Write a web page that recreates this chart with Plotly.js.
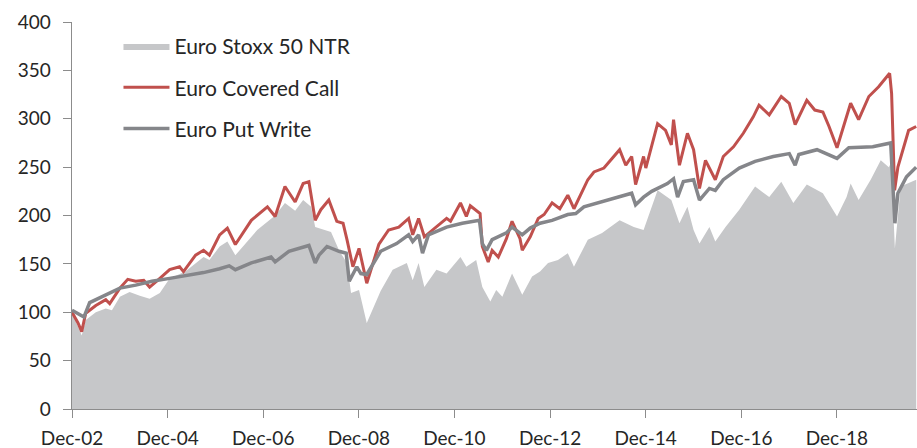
<!DOCTYPE html>
<html>
<head>
<meta charset="utf-8">
<script src="https://cdn.plot.ly/plotly-3.0.1.min.js"></script>
<style>
html,body{margin:0;padding:0;background:#fff;}
#chart{width:917px;height:448px;}
</style>
</head>
<body>
<div id="chart"></div>
<script>
// ---- Euro Stoxx 50 NTR (area) ----
var stoxxDates = ['2002-12-31','2003-02-01','2003-03-15','2003-04-15','2003-07-01','2003-09-15','2003-11-01','2004-01-01','2004-03-15','2004-06-01','2004-08-15','2004-11-01','2005-01-15','2005-05-15','2005-10-01','2005-11-15','2006-02-01','2006-04-01','2006-06-01','2006-11-15','2007-04-01','2007-06-15','2007-09-01','2007-11-01','2008-01-01','2008-02-01','2008-06-01','2008-08-01','2008-10-01','2008-11-01','2009-01-01','2009-03-01','2009-06-15','2009-09-15','2010-01-01','2010-02-15','2010-04-01','2010-05-15','2010-08-15','2010-11-01','2011-02-15','2011-04-01','2011-06-15','2011-08-01','2011-10-01','2011-11-15','2012-01-01','2012-03-15','2012-06-01','2012-08-15','2012-10-15','2012-12-15','2013-03-01','2013-05-15','2013-07-01','2013-10-15','2014-02-01','2014-06-15','2014-10-01','2014-12-15','2015-04-01','2015-07-15','2015-09-15','2015-11-15','2016-01-01','2016-02-15','2016-05-01','2016-06-15','2016-09-01','2016-12-15','2017-04-15','2017-08-01','2017-11-01','2018-02-01','2018-05-15','2018-09-15','2019-01-01','2019-03-15','2019-04-15','2019-06-15','2019-09-15','2019-12-01','2020-02-01','2020-02-19','2020-03-05','2020-03-18','2020-05-01','2020-08-28'];
var stoxxValues = [100,90,76,92,100,104,102,116,121,117,114,120,135,142,157,154,168,173,159,185,200,213,205,216,209,188,183,164,151,120,123,89,122,144,151,133,151,126,144,140,157,147,154,126,111,123,116,140,118,137,142,151,154,161,147,175,182,195,188,185,226,216,192,209,185,171,188,173,188,206,230,219,235,213,232,223,199,219,233,216,237,257,250,255,210,166,230,237];

// ---- Euro Covered Call (red line) ----
var callDates = ['2002-12-31','2003-02-15','2003-03-15','2003-04-15','2003-07-01','2003-09-15','2003-10-15','2004-01-01','2004-03-01','2004-05-01','2004-07-01','2004-08-15','2004-10-15','2005-01-15','2005-04-01','2005-05-01','2005-08-01','2005-10-01','2005-11-15','2006-02-01','2006-04-01','2006-06-01','2006-10-01','2007-02-01','2007-04-01','2007-06-15','2007-09-01','2007-11-01','2007-12-15','2008-02-01','2008-03-15','2008-05-15','2008-07-15','2008-09-01','2008-10-01','2008-11-15','2009-01-01','2009-03-01','2009-06-01','2009-08-15','2009-11-01','2010-01-15','2010-02-15','2010-04-01','2010-05-15','2010-07-15','2010-11-01','2010-12-01','2011-02-15','2011-04-01','2011-05-01','2011-07-15','2011-08-01','2011-09-15','2011-10-15','2011-12-01','2012-02-01','2012-03-15','2012-05-15','2012-06-01','2012-08-01','2012-10-01','2012-11-15','2013-01-15','2013-03-15','2013-05-15','2013-07-01','2013-10-15','2013-12-01','2014-02-15','2014-06-15','2014-08-01','2014-09-15','2014-10-15','2014-12-15','2015-01-01','2015-04-01','2015-06-01','2015-07-15','2015-08-01','2015-09-15','2015-11-15','2016-01-01','2016-02-15','2016-04-01','2016-06-15','2016-08-15','2016-11-01','2017-01-15','2017-04-01','2017-05-15','2017-08-01','2017-11-01','2018-01-01','2018-02-15','2018-05-15','2018-07-15','2018-09-15','2018-11-01','2019-01-01','2019-03-15','2019-04-15','2019-06-15','2019-09-01','2019-11-15','2020-02-07','2020-02-22','2020-03-16','2020-04-10','2020-07-01','2020-08-28'];
var callValues = [100,89,80,99,107,113,109,125,134,132,133,126,133,144,147,142,159,164,159,180,187,170,195,209,199,230,214,233,235,195,206,216,194,192,175,147,166,130,170,185,188,197,180,197,178,185,197,194,213,199,210,202,168,152,164,157,176,194,176,164,178,197,201,213,207,221,207,237,245,249,268,252,261,232,261,249,295,288,273,299,252,285,268,228,257,237,261,271,285,302,314,304,323,316,294,319,309,307,292,270,304,316,299,323,333,347,326,226,250,288,292];

// ---- Euro Put Write (grey line) ----
var putDates = ['2002-12-31','2003-03-01','2003-04-01','2003-05-15','2003-08-15','2004-01-01','2004-05-01','2004-09-01','2005-01-15','2005-05-15','2005-10-01','2006-02-01','2006-04-15','2006-06-01','2006-10-01','2007-03-01','2007-04-01','2007-07-15','2007-12-15','2008-02-01','2008-03-01','2008-05-01','2008-08-01','2008-09-25','2008-10-18','2008-12-15','2009-01-15','2009-03-01','2009-06-15','2009-10-15','2010-01-15','2010-02-15','2010-04-01','2010-05-01','2010-06-15','2010-11-01','2011-03-01','2011-07-10','2011-08-01','2011-09-01','2011-10-15','2012-02-01','2012-03-15','2012-06-01','2012-08-01','2012-10-15','2013-01-15','2013-05-15','2013-07-15','2013-09-15','2014-02-01','2014-06-01','2014-09-15','2014-10-15','2014-12-15','2015-02-15','2015-06-15','2015-08-01','2015-09-01','2015-10-15','2016-01-01','2016-02-15','2016-05-01','2016-06-15','2016-08-15','2016-12-15','2017-04-15','2017-09-01','2018-01-01','2018-02-15','2018-03-15','2018-08-01','2018-11-01','2019-01-01','2019-04-01','2019-10-01','2020-02-15','2020-03-18','2020-04-10','2020-06-15','2020-08-28'];
var putValues = [102,97,95,110,116,125,128,132,135,138,141,145,148,144,151,157,152,163,169,151,159,168,163,161,132,147,140,139,163,171,180,173,180,161,180,188,192,195,171,164,175,182,188,180,187,192,195,201,202,209,214,219,223,211,219,225,233,238,219,235,237,216,228,226,237,249,256,261,264,252,263,268,263,259,270,271,275,192,223,240,250];

var tickVals = ['2002-12-31','2004-12-31','2006-12-31','2008-12-31','2010-12-31','2012-12-31','2014-12-31','2016-12-31','2018-12-31'];
var tickText = ['Dec-02','Dec-04','Dec-06','Dec-08','Dec-10','Dec-12','Dec-14','Dec-16','Dec-18'];
var seriesNames = ['Euro Stoxx 50 NTR','Euro Covered Call','Euro Put Write'];

var FONT = 'Lato, "Open Sans", sans-serif';
var traces = [
  {x: stoxxDates, y: stoxxValues, name: seriesNames[0], type: 'scatter', mode: 'lines',
   fill: 'tozeroy', fillcolor: '#c6c7c9', line: {width: 0, color: '#c6c7c9'}, legendgroup: 'a'},
  {x: callDates, y: callValues, name: seriesNames[1], type: 'scatter', mode: 'lines',
   line: {width: 3, color: '#c0504d'}, legendgroup: 'b'},
  {x: putDates, y: putValues, name: seriesNames[2], type: 'scatter', mode: 'lines',
   line: {width: 3.5, color: '#85868a'}, legendgroup: 'c'}
];

var layout = {
  width: 917, height: 448,
  margin: {l: 72, r: 0, t: 22, b: 39},
  paper_bgcolor: '#ffffff', plot_bgcolor: '#ffffff',
  font: {family: FONT, size: 19, color: '#262626'},
  showlegend: true,
  legend: {x: 0.055, y: 0.99, xanchor: 'left', yanchor: 'top', bgcolor: 'rgba(0,0,0,0)',
           font: {family: FONT, size: 21, color: '#262626'}, tracegroupgap: 11, itemwidth: 46,
           traceorder: 'grouped'},
  xaxis: {type: 'date', range: ['2002-12-31', '2020-09-03'], tickmode: 'array',
          tickvals: tickVals, ticktext: tickText, ticks: 'outside', ticklen: 8,
          tickcolor: '#8c8c8c', showline: true, linecolor: '#8c8c8c', linewidth: 1.3,
          showgrid: false, zeroline: false, ticklabelstandoff: 4},
  yaxis: {range: [0, 400], dtick: 50, ticks: 'outside', ticklen: 8, tickcolor: '#8c8c8c',
          showline: true, linecolor: '#8c8c8c', linewidth: 1.3, showgrid: false, zeroline: false,
          ticklabelstandoff: 8}
};

Plotly.newPlot('chart', traces, layout, {staticPlot: true, displayModeBar: false});
</script>
</body>
</html>
